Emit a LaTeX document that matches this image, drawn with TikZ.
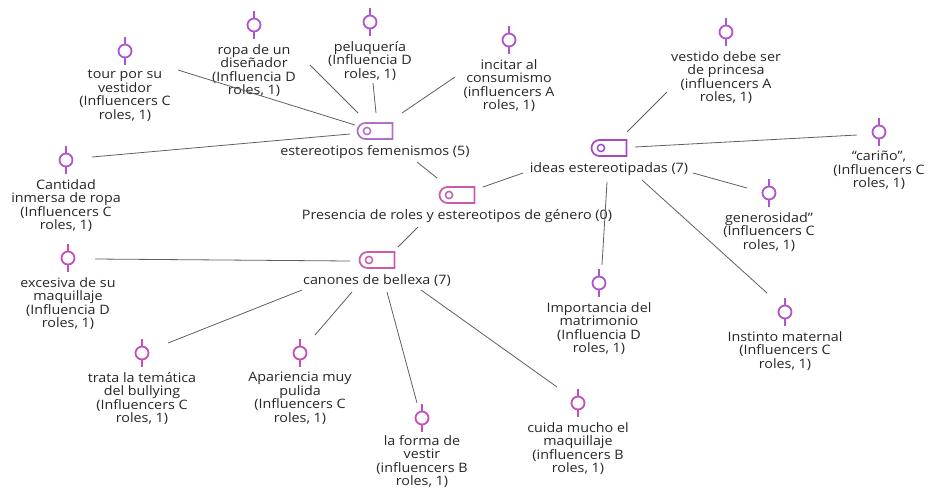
\documentclass[tikz,border=0pt]{standalone}
\usepackage{fontspec}
\setmainfont{Open Sans}[FakeStretch=1.1]
\usetikzlibrary{shapes.misc}
\definecolor{qviolet}{RGB}{176,84,206}
\definecolor{qpink}{RGB}{198,78,184}
\definecolor{cviolet}{RGB}{168,72,196}
\definecolor{clight}{RGB}{178,110,200}
\definecolor{cpink}{RGB}{204,90,170}
\definecolor{edgegray}{RGB}{95,95,95}
\tikzset{
  qicon/.style={circle, draw=#1, line width=1.8pt, minimum size=13pt, inner sep=0pt},
  qtext/.style={align=center, inner sep=0pt, anchor=north, text=black!85,
    font=\fontsize{13}{13.6}\selectfont},
  cicon/.style={rounded rectangle, rounded rectangle right arc=none, draw=#1,
    line width=1.7pt, minimum width=35pt, minimum height=16pt, inner sep=0pt},
  ctext/.style={inner sep=0pt, anchor=north, text=black!85,
    font=\fontsize{13}{13.6}\selectfont},
  link/.style={draw=edgegray, line width=0.8pt},
}
\newcommand\quoteitem[6][19]{%
  \node[qicon=#5] (#2) at (#3,#4) {};
  \draw[#5, line width=1.8pt] (#2.north) -- ++(0,-7) (#2.south) -- ++(0,7);
  \node[qtext] (#2t) at ([shift={(0,#1)}]#2.center) {#6};
}
\newcommand\codeitem[5]{%
  \node[cicon=#4] (#1) at (#2,#3) {};
  \draw[#4, line width=1.5pt] ([shift={(-8,0)}]#1.center) circle (3.6pt);
  \node[ctext] (#1t) at ([shift={(0,14)}]#1.center) {#5};
}
\begin{document}
\begin{tikzpicture}[x=1pt, y=-1pt]
\useasboundingbox (0,0) rectangle (934,488);
% codes
\codeitem{A}{375}{131}{clight}{estereotipos femenismos (5)}
\codeitem{B}{457}{195}{cpink}{Presencia de roles y estereotipos de género (0)}
\codeitem{C}{609}{148}{cviolet}{ideas estereotipadas (7)}
\codeitem{D}{377}{260}{cpink}{canones de bellexa (7)}
% quotes
\quoteitem{q1}{125}{51}{qviolet}{tour por su\\vestidor\\(Influencers C\\roles, 1)}
\quoteitem{q2}{254}{25}{qviolet}{ropa de un\\diseñador\\(Influencia D\\roles, 1)}
\quoteitem{q3}{370}{22}{qviolet}{peluquería\\(Influencia D\\roles, 1)}
\quoteitem{q4}{509}{40}{qviolet}{incitar al\\consumismo\\(influencers A\\roles, 1)}
\quoteitem{q5}{66}{160}{qviolet}{Cantidad\\inmersa de ropa\\(Influencers C\\roles, 1)}
\quoteitem{q6}{726}{32}{qviolet}{vestido debe ser\\de princesa\\(influencers A\\roles, 1)}
\quoteitem{q7}{879}{132}{qviolet}{“cariño”,\\(Influencers C\\roles, 1)}
\quoteitem{q8}{769}{193}{qviolet}{generosidad”\\(Influencers C\\roles, 1)}
\quoteitem{q9}{599}{283}{qviolet}{Importancia del\\matrimonio\\(Influencia D\\roles, 1)}
\quoteitem{q10}{785}{312}{qviolet}{Instinto maternal\\(Influencers C\\roles, 1)}
\quoteitem{q11}{68}{258}{qpink}{excesiva de su\\maquillaje\\(Influencia D\\roles, 1)}
\quoteitem{q12}{142}{353}{qpink}{trata la temática\\del bullying\\(Influencers C\\roles, 1)}
\quoteitem{q13}{300}{353}{qpink}{Apariencia muy\\pulida\\(Influencers C\\roles, 1)}
\quoteitem[17]{q14}{422}{418}{qpink}{la forma de\\vestir\\(influencers B\\roles, 1)}
\quoteitem{q15}{578}{403}{qpink}{cuida mucho el\\maquillaje\\(influencers B\\roles, 1)}
% links
\path[link] ([shift={(53,19)}]q1.center) -- ([shift={(-20,-6)}]A.center);
\path[link] ([shift={(56,40)}]q2.center) -- ([shift={(-17,-18)}]A.center);
\path[link] ([shift={(3,61)}]q3.center) -- ([shift={(1,-18)}]A.center);
\path[link] ([shift={(-54,37)}]q4.center) -- ([shift={(27,-18)}]A.center);
\path[link] ([shift={(26,-3)}]q5.center) -- ([shift={(-25,3)}]A.center);
\path[link] ([shift={(42,31)}]A.center) -- ([shift={(-20,-17)}]B.center);
\path[link] ([shift={(26,-8)}]B.center) -- ([shift={(-86,25)}]C.center);
\path[link] ([shift={(-39,32)}]B.center) -- ([shift={(21,-13)}]D.center);
\path[link] ([shift={(18,-16)}]C.center) -- ([shift={(-59,60)}]q6.center);
\path[link] ([shift={(26,-1)}]C.center) -- ([shift={(-22,3)}]q7.center);
\path[link] ([shift={(84,25)}]C.center) -- ([shift={(-22,-5)}]q8.center);
\path[link] ([shift={(-2,34)}]C.center) -- ([shift={(3,-18)}]q9.center);
\path[link] ([shift={(33,32)}]C.center) -- ([shift={(-18,-19)}]q10.center);
\path[link] ([shift={(-27,1)}]D.center) -- ([shift={(27,1)}]q11.center);
\path[link] ([shift={(-75,30)}]D.center) -- ([shift={(26,-10)}]q12.center);
\path[link] ([shift={(-25,32)}]D.center) -- ([shift={(15,-18)}]q13.center);
\path[link] ([shift={(10,32)}]D.center) -- ([shift={(-5,-15)}]q14.center);
\path[link] ([shift={(44,30)}]D.center) -- ([shift={(-21,-16)}]q15.center);
\end{tikzpicture}
\end{document}
